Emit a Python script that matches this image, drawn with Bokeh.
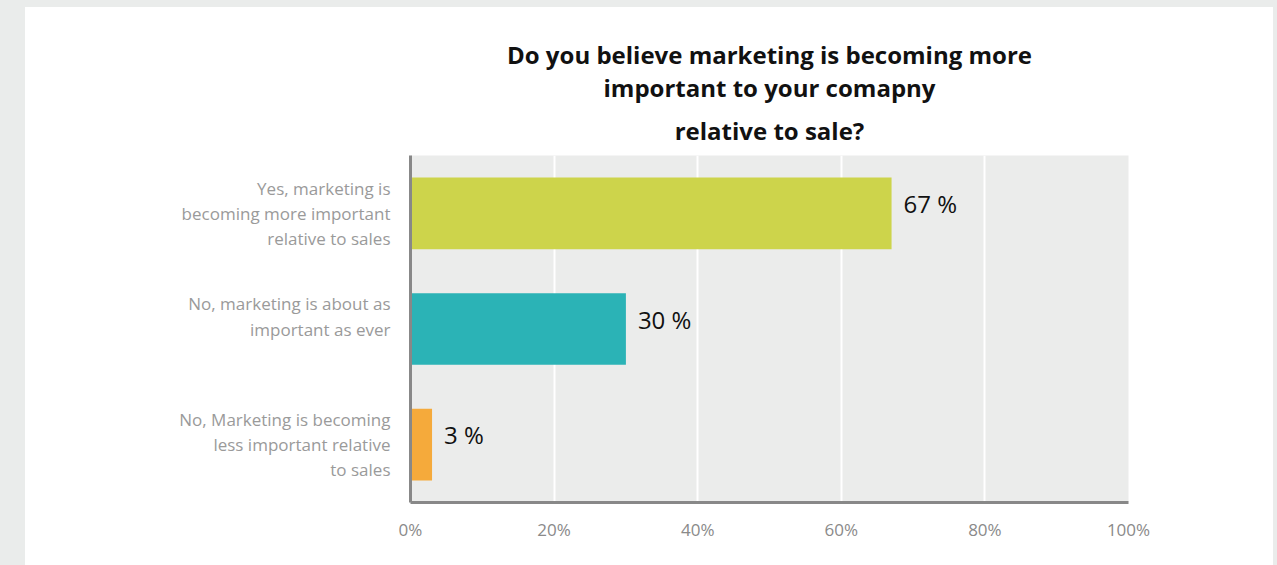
from bokeh.plotting import figure
from bokeh.models import Range1d, FixedTicker, ColumnDataSource, Spacer, Title
from bokeh.layouts import row, column
from bokeh.core.properties import value
from bokeh.embed import file_html
from bokeh.resources import INLINE

categories = [
    "Yes, marketing is\nbecoming more important\nrelative to sales",
    "No, marketing is about as\nimportant as ever",
    "No, Marketing is becoming\nless important relative\nto sales",
]
values = [67, 30, 3]
value_labels = ["67 %", "30 %", "3 %"]
colors = ["#cdd44b", "#2bb3b6", "#f5aa3b"]
x_ticks = [0, 20, 40, 60, 80, 100]
x_tick_labels = ["0%", "20%", "40%", "60%", "80%", "100%"]
title_lines = [
    "Do you believe marketing is becoming more",
    "important to your comapny",
    "relative to sale?",
]

FONT = "Open Sans"
GRAY_BG = "#eaeceb"

# categories are placed top to bottom in slots 0..n on a numeric y scale
n = len(categories)
cat_pos = [n - i - 0.5 for i in range(n)]
src = ColumnDataSource(dict(pos=cat_pos, val=values, lab=value_labels, color=colors))

p = figure(
    width=1248, height=558,
    y_range=Range1d(0, n),
    x_range=Range1d(0, 100),
    output_backend="svg", toolbar_location=None,
    min_border_left=385, min_border_right=145, min_border_top=148, min_border_bottom=63,
)
p.background_fill_color = "#ebeceb"
p.border_fill_color = "white"
p.outline_line_color = None

# title lines: first added sits closest to the frame
standoffs = [17, -1.5, -3.5]
for line, so in zip(reversed(title_lines), standoffs):
    t = Title(text=line, align="center", text_font=FONT, text_font_style="bold",
              text_font_size="24px", text_color="#111111", standoff=so)
    p.add_layout(t, "above")

p.hbar(y="pos", right="val", left=0, height=0.62, color="color", line_color=None, source=src)

p.text(x="val", y="pos", text="lab", source=src, x_offset=12, y_offset=-10,
       text_font=value(FONT), text_font_size="24px", text_color="#111111",
       text_baseline="middle", text_align="left")

# category labels: every label is laid out as a three-line block (blank last line if needed)
p.yaxis.ticker = FixedTicker(ticks=cat_pos)
label_texts = [c if c.count("\n") == 2 else c + "\n\u2800" for c in categories]
p.yaxis.major_label_overrides = {t: l for t, l in zip(cat_pos, label_texts)}

p.xaxis.ticker = FixedTicker(ticks=x_ticks)
p.xaxis.major_label_overrides = {t: l for t, l in zip(x_ticks, x_tick_labels)}
for ax in (p.xaxis[0], p.yaxis[0]):
    ax.axis_line_color = "#888888"
    ax.axis_line_width = 3
    ax.major_tick_line_color = None
    ax.minor_tick_line_color = None
    ax.major_label_text_font = FONT

p.xaxis.major_label_text_font_size = "17px"
p.xaxis.major_label_text_color = "#8a8a8a"
p.xaxis.major_label_standoff = 9

p.yaxis.major_label_text_font_size = "17px"
p.yaxis.major_label_text_color = "#9a9a9a"
p.yaxis.major_label_standoff = 14
p.yaxis.major_label_text_line_height = 1.1
p.yaxis.major_label_text_align = "right"

p.xgrid.grid_line_color = "white"
p.xgrid.grid_line_width = 2
p.ygrid.grid_line_color = None

layout = column(
    Spacer(width=1277, height=7, styles={"background-color": GRAY_BG}),
    row(
        Spacer(width=25, height=558, styles={"background-color": GRAY_BG}),
        p,
        Spacer(width=4, height=558, styles={"background-color": GRAY_BG}),
    ),
)

open("out.html", "w").write(file_html(layout, INLINE))
